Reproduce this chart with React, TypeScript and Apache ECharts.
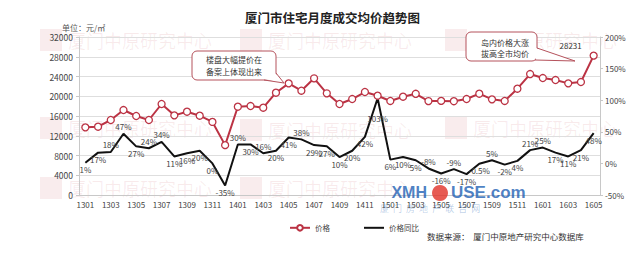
import React, { useEffect, useRef } from 'react';
import * as echarts from 'echarts';

const months = [
  '1301','1302','1303','1304','1305','1306','1307','1308','1309','1310','1311','1312',
  '1401','1402','1403','1404','1405','1406','1407','1408','1409','1410','1411','1412',
  '1501','1502','1503','1504','1505','1506','1507','1508','1509','1510','1511','1512',
  '1601','1602','1603','1604','1605',
];

const price = [
  13700, 13830, 15190, 17210, 16000, 15190, 18430, 16130, 16870, 16060, 14800, 10100,
  17880, 18020, 17680, 20720, 22610, 21120, 23630, 20590, 18430, 19440, 20860, 20110,
  19040, 19910, 20500, 19020, 19060, 19000, 19440, 20520, 19370, 19040, 21530, 24500,
  23690, 23290, 22610, 22880, 28231,
];

const yoy = [
  1, 17, 18, 47, 27, 24, 34, 11, 16, 20, 0, -35,
  30, 30, 16, 20, 41, 38, 29, 27, 10, 20, 42, 103,
  6, 10, 5, -8, -16, -9, -17, -0.5, 5, -2, 4, 21,
  25, 17, 11, 21, 48,
];

const labelAboveMonths = ['1303','1304','1306','1307','1401','1403','1406','1504','1506','1509','1512','1601'];

const seriesNames = ['价格', '价格同比'];
const titleText = '厦门市住宅月度成交均价趋势图';
const unitText = '单位：元/㎡';
const sourceText = '数据来源：  厦门中原地产研究中心数据库';
const note1 = '楼盘大幅提价在\n备案上体现出来';
const note2 = '岛内价格大涨\n拔高全市均价';
const watermark = '厦门中原研究中心';

const RED = '#bb3344';
const FONT = '"Noto Sans CJK SC", "Liberation Sans", sans-serif';

export default function App() {
  const ref = useRef<HTMLDivElement>(null);

  useEffect(() => {
    document.body.style.margin = '0';
    if (!ref.current) return;
    const chart = echarts.init(ref.current, null, { renderer: 'svg' });

    const wmPositions = [
      [40, 40], [240, 40], [445, 40],
      [40, 128], [240, 130], [445, 128],
      [40, 188], [240, 188],
    ];
    const wmGraphics: any[] = [];
    wmPositions.forEach(([x, y]) => {
      wmGraphics.push({
        type: 'rect', silent: true, z: 0,
        shape: { x, y: y - 11, width: 22, height: 22 },
        style: { fill: 'rgba(190,40,50,0.09)' },
      });
      wmGraphics.push({
        type: 'text', silent: true, z: 0,
        x: x + 28, y,
        style: {
          text: watermark, fontSize: 18, fontFamily: FONT,
          fill: 'rgba(190,40,50,0.09)', verticalAlign: 'middle',
        },
      });
    });

    const option: any = {
      animation: false,
      backgroundColor: '#fff',
      textStyle: { fontFamily: FONT },
      title: {
        text: titleText,
        left: 240,
        top: 6,
        textStyle: { fontSize: 12.5, fontWeight: 'bold', color: '#222', fontFamily: FONT },
      },
      legend: {
        data: [
          { name: seriesNames[0] },
          { name: seriesNames[1], icon: 'path://M0,0H20V2H0Z' },
        ],
        left: 284,
        top: 219,
        itemWidth: 20,
        itemHeight: 7,
        itemGap: 34,
        textStyle: { fontSize: 7.5, color: '#444' },
      },
      grid: { left: 79, right: 40, top: 37, bottom: 58 },
      xAxis: {
        type: 'category',
        data: months,
        boundaryGap: true,
        axisLine: { show: true, lineStyle: { color: '#c8c8c8' } },
        axisTick: { show: false },
        axisLabel: { interval: 1, fontSize: 8, color: '#444', margin: 5 },
      },
      yAxis: [
        {
          type: 'value',
          min: 0,
          max: 32000,
          interval: 4000,
          axisLine: { show: true, lineStyle: { color: '#c8c8c8' } },
          axisTick: { show: true, length: 3, lineStyle: { color: '#c8c8c8' } },
          axisLabel: { fontSize: 8.5, color: '#444', margin: 6, formatter: (v: number) => String(v) },
          splitLine: { lineStyle: { color: '#dedede' } },
        },
        {
          type: 'value',
          min: -50,
          max: 200,
          interval: 50,
          axisLine: { show: true, lineStyle: { color: '#c8c8c8' } },
          axisTick: { show: true, length: 3, lineStyle: { color: '#c8c8c8' } },
          axisLabel: { fontSize: 8, color: '#444', margin: 5, formatter: '{value}%' },
          splitLine: { show: false },
        },
      ],
      series: [
        {
          name: seriesNames[0],
          type: 'line',
          yAxisIndex: 0,
          z: 3,
          symbol: 'circle',
          symbolSize: 7,
          lineStyle: { color: RED, width: 2 },
          itemStyle: { color: '#fff', borderColor: RED, borderWidth: 1.3 },
          data: price.map((v, i) => ({
            value: v,
            label: {
              show: i === price.length - 1,
              position: 'top',
              offset: [-23, 3],
              fontSize: 8,
              color: '#333',
            },
          })),
        },
        {
          name: seriesNames[1],
          type: 'line',
          yAxisIndex: 1,
          z: 2,
          symbol: 'circle',
          symbolSize: 0.1,
          showSymbol: true,
          lineStyle: { color: '#111', width: 2 },
          itemStyle: { color: '#111' },
          label: { show: true, fontSize: 8, color: '#444', formatter: '{c}%', distance: 3 },
          data: yoy.map((v, i) => ({
            value: v,
            label: {
              position: labelAboveMonths.includes(months[i]) ? 'top' : 'bottom',
              distance: v === Math.max(...yoy) ? 16 : 3,
            },
          })),
        },
      ],
      graphic: [
        ...wmGraphics,
        {
          type: 'text', x: 427, y: 192, z: 1, silent: true,
          style: {
            text: 'XMH', fontSize: 16, fontWeight: 'bold', fontFamily: '"Liberation Sans", sans-serif',
            fill: 'rgba(30,95,180,0.8)', verticalAlign: 'middle', align: 'right',
          },
        },
        {
          type: 'circle', z: 1, silent: true,
          shape: { cx: 440, cy: 193, r: 8 },
          style: { fill: 'rgba(225,50,40,0.8)' },
        },
        {
          type: 'text', x: 451, y: 192, z: 1, silent: true,
          style: {
            text: 'USE.com', fontSize: 17, fontWeight: 'bold', fontFamily: '"Liberation Sans", sans-serif',
            fill: 'rgba(30,95,180,0.8)', verticalAlign: 'middle',
          },
        },
        {
          type: 'text', x: 380, y: 208, z: 1, silent: true,
          style: {
            text: '厦  门  房  地  产  联  合  网', fontSize: 9, fontFamily: FONT,
            fill: 'rgba(30,95,180,0.3)', verticalAlign: 'middle',
          },
        },
        {
          type: 'text', x: 62, y: 27, z: 10,
          style: { text: unitText, fontSize: 8, fill: '#555', fontFamily: FONT, verticalAlign: 'middle' },
        },
        {
          type: 'text', x: 427, y: 236, z: 10,
          style: { text: sourceText, fontSize: 8.5, fill: '#333', fontFamily: FONT, verticalAlign: 'middle' },
        },
        // callout 1
        {
          type: 'rect', z: 20,
          shape: { x: 192, y: 51, width: 84, height: 29, r: 5 },
          style: { fill: '#fff', stroke: '#b5525c', lineWidth: 1 },
        },
        {
          type: 'polygon', z: 21,
          shape: { points: [[264, 79], [275, 73], [284, 83]] },
          style: { fill: '#fff' },
        },
        {
          type: 'polyline', z: 22,
          shape: { points: [[264, 80], [284, 83], [276, 73]] },
          style: { stroke: '#b5525c', lineWidth: 1, fill: null },
        },
        {
          type: 'text', x: 234, y: 65, z: 23,
          style: {
            text: note1, fontSize: 8, fill: '#333', fontFamily: FONT,
            align: 'center', verticalAlign: 'middle', lineHeight: 12,
          },
        },
        // callout 2
        {
          type: 'rect', z: 20,
          shape: { x: 466, y: 32, width: 71, height: 29, r: 5 },
          style: { fill: '#fff', stroke: '#b5525c', lineWidth: 1 },
        },
        {
          type: 'polygon', z: 21,
          shape: { points: [[536, 48], [536, 59], [575, 61]] },
          style: { fill: '#fff' },
        },
        {
          type: 'polyline', z: 22,
          shape: { points: [[537, 48], [575, 61], [535, 60]] },
          style: { stroke: '#b5525c', lineWidth: 1, fill: null },
        },
        {
          type: 'text', x: 505, y: 48, z: 23,
          style: {
            text: note2, fontSize: 8, fill: '#333', fontFamily: FONT,
            align: 'center', verticalAlign: 'middle', lineHeight: 11,
          },
        },
      ],
    };

    chart.setOption(option);
    return () => chart.dispose();
  }, []);

  return (
    <div
      ref={ref}
      style={{ position: 'absolute', left: 0, top: 0, width: 640, height: 253 }}
    />
  );
}
